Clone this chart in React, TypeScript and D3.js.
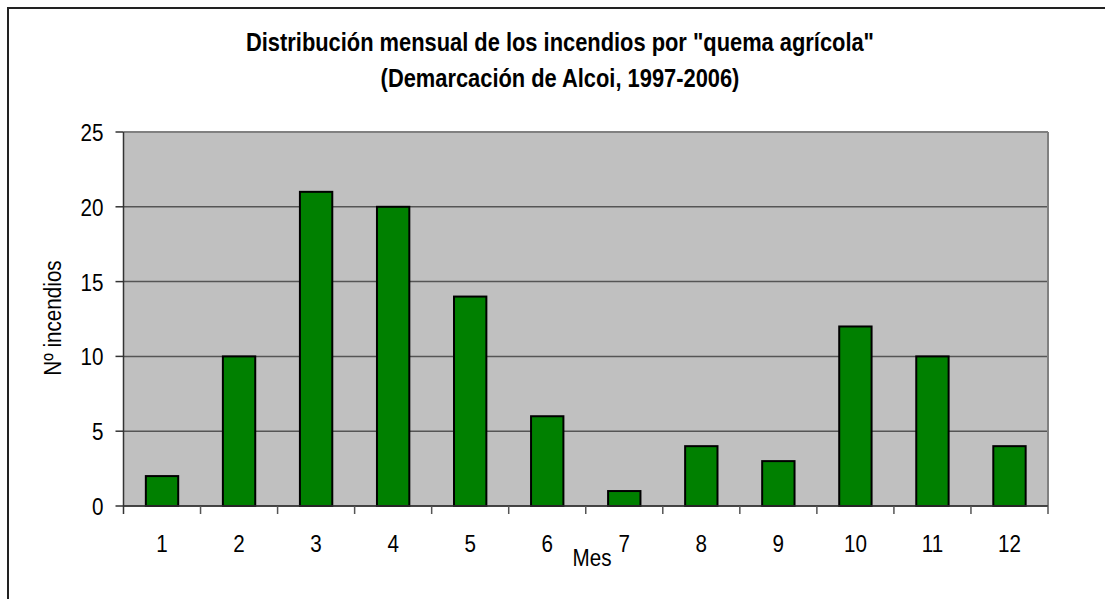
import React from "react";
import * as d3 from "d3";

const months = ["1", "2", "3", "4", "5", "6", "7", "8", "9", "10", "11", "12"];
const fires = [2, 10, 21, 20, 14, 6, 1, 4, 3, 12, 10, 4];
const yTicks = [0, 5, 10, 15, 20, 25];
const titleLines = ['Distribución mensual de los incendios por "quema agrícola"', "(Demarcación de Alcoi, 1997-2006)"];
const xLabel = "Mes";
const yLabel = "Nº incendios";

const W = 1105;
const H = 599;
const plot = { left: 123.5, right: 1048, top: 132, bottom: 506 };
const FONT = "'Liberation Sans', Arial, sans-serif";
const SX = 0.86;

function T({ x, y, children, anchor = "middle", size = 24, bold = false, sx = SX, rotate = 0 }: any) {
  return (
    <text
      transform={`translate(${x},${y}) rotate(${rotate}) scale(${sx},1)`}
      textAnchor={anchor}
      fontSize={size}
      fontWeight={bold ? "bold" : "normal"}
      fill="#000"
    >
      {children}
    </text>
  );
}

export default function App() {
  const x = d3.scaleBand<string>().domain(months).range([plot.left, plot.right]).paddingInner(0.58).paddingOuter(0.29);
  const xCat = d3.scaleBand<string>().domain(months).range([plot.left, plot.right]);
  const y = d3.scaleLinear().domain([0, 25]).range([plot.bottom, plot.top]);

  return (
    <svg width={W} height={H} style={{ position: "absolute", left: 0, top: 0, fontFamily: FONT }}>
      <rect x={0} y={0} width={W} height={H} fill="#fff" />
      <path d={`M8,${H} V8 H${W}`} fill="none" stroke="#222" strokeWidth={2} />
      {titleLines.map((t, i) => (
        <T key={i} x={560} y={51 + i * 36} size={25} bold sx={0.875}>{t}</T>
      ))}
      <rect x={plot.left} y={plot.top} width={plot.right - plot.left} height={plot.bottom - plot.top} fill="#c0c0c0" />
      {yTicks.map((t) => (
        <g key={t}>
          <line x1={plot.left} x2={plot.right} y1={y(t)} y2={y(t)} stroke={t === 25 ? "#808080" : "#555"} strokeWidth={t === 25 ? 2 : 1.5} />
          <line x1={plot.left - 8} x2={plot.left} y1={y(t)} y2={y(t)} stroke="#333" strokeWidth={1.5} />
          <T x={plot.left - 20} y={y(t) + 9} anchor="end">{t}</T>
        </g>
      ))}
      <line x1={plot.right} x2={plot.right} y1={plot.top} y2={plot.bottom} stroke="#808080" strokeWidth={2} />
      {fires.map((v, i) => (
        <rect key={i} x={x(months[i])!} y={y(v)} width={x.bandwidth()} height={y(0) - y(v)} fill="#008000" stroke="#000" strokeWidth={2} />
      ))}
      <line x1={plot.left} x2={plot.left} y1={plot.top} y2={plot.bottom + 8} stroke="#333" strokeWidth={1.5} />
      <line x1={plot.left} x2={plot.right} y1={plot.bottom} y2={plot.bottom} stroke="#333" strokeWidth={1.5} />
      {months.map((m) => (
        <g key={m}>
          <line x1={xCat(m)! + xCat.bandwidth()} x2={xCat(m)! + xCat.bandwidth()} y1={plot.bottom} y2={plot.bottom + 8} stroke="#555" strokeWidth={1.5} />
          <T x={xCat(m)! + xCat.bandwidth() / 2} y={552}>{m}</T>
        </g>
      ))}
      <T x={592} y={566}>{xLabel}</T>
      <T x={61} y={318} rotate={-90}>{yLabel}</T>
    </svg>
  );
}
